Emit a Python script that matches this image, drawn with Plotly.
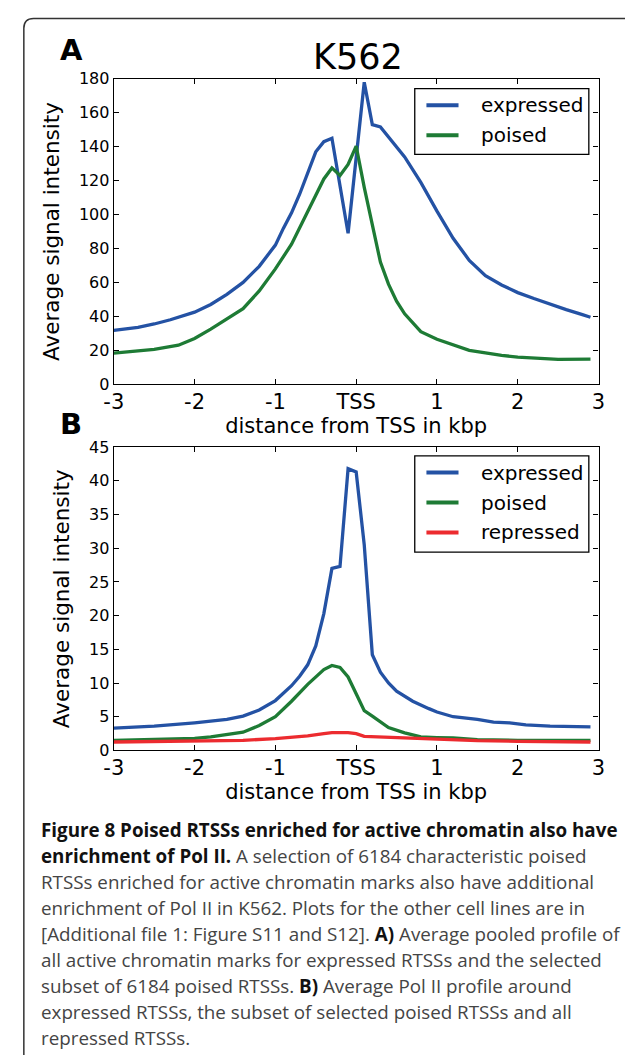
import plotly.graph_objects as go

# The page body keeps its default 8px margin, so the figure is drawn 16px smaller
# than the 633x1063 window and all target positions are given in page pixels.
PAGE_W, PAGE_H = 633, 1063
OFF = 8
W, H = PAGE_W - 2 * OFF, PAGE_H - 2 * OFF


def px(x):
    return (x - OFF) / W


def py(y):
    return 1 - (y - OFF) / H


# ---------------- data ----------------
# Panel A: average pooled profile of active chromatin marks
a_expr_x = [-3.0, -2.7, -2.5, -2.3, -2.0, -1.8, -1.6, -1.4, -1.2, -1.0, -0.9, -0.8, -0.7,
            -0.6, -0.5, -0.4, -0.3, -0.1, 0.1, 0.2, 0.3, 0.6, 0.8, 1.0, 1.2, 1.4, 1.6,
            1.8, 2.0, 2.2, 2.4, 2.6, 2.8, 2.9]
a_expr_y = [31.8, 33.5, 35.5, 38.0, 42.5, 47.0, 53.0, 60.0, 69.5, 82.0, 92.0, 101.0, 112.0,
            124.0, 137.0, 143.0, 145.0, 89.0, 178.0, 153.0, 151.6, 134.0, 119.0, 102.0, 86.0,
            73.0, 64.0, 58.5, 54.0, 50.5, 47.0, 44.0, 41.0, 39.5]

a_pois_x = [-3.0, -2.8, -2.5, -2.2, -2.0, -1.8, -1.6, -1.4, -1.2, -1.0, -0.8, -0.7, -0.6,
            -0.5, -0.4, -0.3, -0.2, -0.1, 0.0, 0.1, 0.2, 0.3, 0.4, 0.5, 0.6, 0.8, 1.0,
            1.2, 1.4, 1.6, 1.8, 2.0, 2.2, 2.5, 2.9]
a_pois_y = [18.3, 19.3, 20.5, 23.0, 27.0, 32.5, 38.5, 44.5, 55.0, 68.0, 82.5, 92.0, 102.0,
            112.0, 121.0, 127.5, 123.0, 129.5, 140.4, 116.0, 93.0, 72.0, 59.0, 49.0, 41.5,
            31.0, 26.5, 23.0, 20.0, 18.5, 17.0, 16.0, 15.3, 14.7, 14.8]

# Panel B: average Pol II profile
b_expr_x = [-3.0, -2.5, -2.0, -1.6, -1.4, -1.2, -1.0, -0.8, -0.7, -0.6, -0.5, -0.4, -0.3,
            -0.2, -0.1, 0.0, 0.1, 0.2, 0.3, 0.4, 0.5, 0.7, 0.9, 1.0, 1.2, 1.5, 1.7, 1.9,
            2.1, 2.4, 2.9]
b_expr_y = [3.3, 3.6, 4.1, 4.6, 5.1, 6.0, 7.4, 9.6, 11.0, 12.7, 15.5, 20.3, 27.0,
            27.3, 41.8, 41.3, 30.5, 14.2, 11.6, 10.0, 8.8, 7.3, 6.2, 5.7, 5.0, 4.6, 4.2, 4.1,
            3.8, 3.6, 3.5]

b_pois_x = [-3.0, -2.5, -2.0, -1.8, -1.6, -1.4, -1.2, -1.0, -0.8, -0.6, -0.4, -0.3, -0.2,
            -0.1, 0.0, 0.1, 0.2, 0.3, 0.4, 0.6, 0.8, 1.0, 1.2, 1.5, 2.0, 2.9]
b_pois_y = [1.5, 1.6, 1.8, 2.0, 2.4, 2.7, 3.7, 5.0, 7.3, 9.8, 12.0, 12.6, 12.3,
            10.9, 8.4, 5.9, 5.1, 4.3, 3.4, 2.6, 2.0, 1.9, 1.85, 1.6, 1.5, 1.5]

b_repr_x = [-3.0, -2.0, -1.4, -1.0, -0.6, -0.4, -0.3, -0.1, 0.0, 0.1, 0.5, 1.0, 1.5, 2.0, 2.9]
b_repr_y = [1.25, 1.35, 1.5, 1.75, 2.15, 2.5, 2.65, 2.65, 2.5, 2.1, 1.9, 1.7, 1.45, 1.35, 1.25]

x_tickvals = [-3, -2, -1, 0, 1, 2, 3]
x_ticktext = ["-3", "-2", "-1", "TSS", "1", "2", "3"]

legend_a = ["expressed", "poised"]
legend_b = ["expressed", "poised", "repressed"]

B0 = "<b><span style='color:#111111'>"
B1 = "</span></b>"
caption_lines = [
    f"{B0}Figure 8 Poised RTSSs enriched for active chromatin also have{B1}",
    f"{B0}enrichment of Pol II.{B1} A selection of 6184 characteristic poised",
    "RTSSs enriched for active chromatin marks also have additional",
    "enrichment of Pol II in K562. Plots for the other cell lines are in",
    f"[Additional file 1: Figure S11 and S12]. {B0}A){B1} Average pooled profile of",
    "all active chromatin marks for expressed RTSSs and the selected",
    f"subset of 6184 poised RTSSs. {B0}B){B1} Average Pol II profile around",
    "expressed RTSSs, the subset of selected poised RTSSs and all",
    "repressed RTSSs.",
]

BLUE = "#2452a4"
GREEN = "#1e7b35"
RED = "#ec2b2f"
LW = 3.3

fig = go.Figure()
fig.add_trace(go.Scatter(x=a_expr_x, y=a_expr_y, mode="lines", name=legend_a[0],
                         line=dict(color=BLUE, width=LW), xaxis="x", yaxis="y"))
fig.add_trace(go.Scatter(x=a_pois_x, y=a_pois_y, mode="lines", name=legend_a[1],
                         line=dict(color=GREEN, width=LW), xaxis="x", yaxis="y"))
fig.add_trace(go.Scatter(x=b_expr_x, y=b_expr_y, mode="lines", name=legend_b[0],
                         line=dict(color=BLUE, width=LW), xaxis="x2", yaxis="y2"))
fig.add_trace(go.Scatter(x=b_pois_x, y=b_pois_y, mode="lines", name=legend_b[1],
                         line=dict(color=GREEN, width=LW), xaxis="x2", yaxis="y2"))
fig.add_trace(go.Scatter(x=b_repr_x, y=b_repr_y, mode="lines", name=legend_b[2],
                         line=dict(color=RED, width=LW), xaxis="x2", yaxis="y2"))

axis_common = dict(showline=True, linecolor="black", linewidth=1.3, mirror="ticks",
                   ticks="inside", ticklen=5, tickwidth=1.1, tickcolor="black",
                   showgrid=False, zeroline=False)

xdom = [px(106.5), px(605)]
xcommon = dict(axis_common, range=[-3, 3], tickvals=x_tickvals, ticktext=x_ticktext,
               tickfont=dict(size=21), domain=xdom, ticklabelstandoff=-2,
               title=dict(text="distance from TSS in kbp", font=dict(size=21), standoff=0))

fig.update_layout(
    width=W, height=H,
    margin=dict(l=0, r=0, t=0, b=0),
    paper_bgcolor="white", plot_bgcolor="white",
    font=dict(family="DejaVu Sans", color="black"),
    showlegend=False,
    title=dict(text="K562", x=px(358), y=py(57), xanchor="center", yanchor="middle",
               font=dict(size=35)),
    xaxis=dict(xcommon, anchor="y"),
    yaxis=dict(axis_common, range=[0, 180], dtick=20, tickfont=dict(size=16),
               domain=[py(382), py(71)], anchor="x",
               title=dict(text="Average signal intensity", font=dict(size=21.5), standoff=13)),
    xaxis2=dict(xcommon, anchor="y2"),
    yaxis2=dict(axis_common, range=[0, 45], dtick=5, tickfont=dict(size=16),
                domain=[py(755), py(446)], anchor="x2",
                title=dict(text="Average signal intensity", font=dict(size=21.5), standoff=13)),
)

annotations = [
    dict(text="<b>A</b>", x=px(49), y=py(42), xref="paper", yref="paper",
         xanchor="left", yanchor="middle", showarrow=False, font=dict(size=29)),
    dict(text="<b>B</b>", x=px(49), y=py(423), xref="paper", yref="paper",
         xanchor="left", yanchor="middle", showarrow=False, font=dict(size=29)),
]
shapes = []


def add_legend(names, colors, top, bottom, first_y):
    shapes.append(dict(type="rect", xref="paper", yref="paper",
                       x0=px(416), x1=px(595), y0=py(bottom), y1=py(top),
                       fillcolor="white", line=dict(color="black", width=1.3), layer="above"))
    for i, (nm, col) in enumerate(zip(names, colors)):
        yy = first_y + i * 30.5
        shapes.append(dict(type="line", xref="paper", yref="paper",
                           x0=px(428), x1=px(461), y0=py(yy), y1=py(yy),
                           line=dict(color=col, width=4), layer="above"))
        annotations.append(dict(text=nm, x=px(482), y=py(yy), xref="paper", yref="paper",
                                xanchor="left", yanchor="middle", showarrow=False,
                                font=dict(size=20)))


add_legend(legend_a, [BLUE, GREEN], 81, 148, 98)
add_legend(legend_b, [BLUE, GREEN, RED], 455, 553, 472)

for i, line in enumerate(caption_lines):
    annotations.append(dict(text=line, x=px(30), y=py(836 + i * 26.5), xref="paper",
                            yref="paper", xanchor="left", yanchor="middle", showarrow=False,
                            font=dict(family="Open Sans", size=18.8, color="#444444")))

# rounded outer frame (right side lies beyond the visible area)
r = 10
shapes.append(dict(type="path", xref="paper", yref="paper",
                   path=(f"M {px(14)},{py(1070)} L {px(14)},{py(9.5 + r)} "
                         f"Q {px(14)},{py(9.5)} {px(14 + r)},{py(9.5)} "
                         f"L {px(640)},{py(9.5)}"),
                   line=dict(color="#333333", width=1.5)))

fig.update_layout(annotations=annotations, shapes=shapes)

fig.write_html("out.html", config={"displayModeBar": False})
